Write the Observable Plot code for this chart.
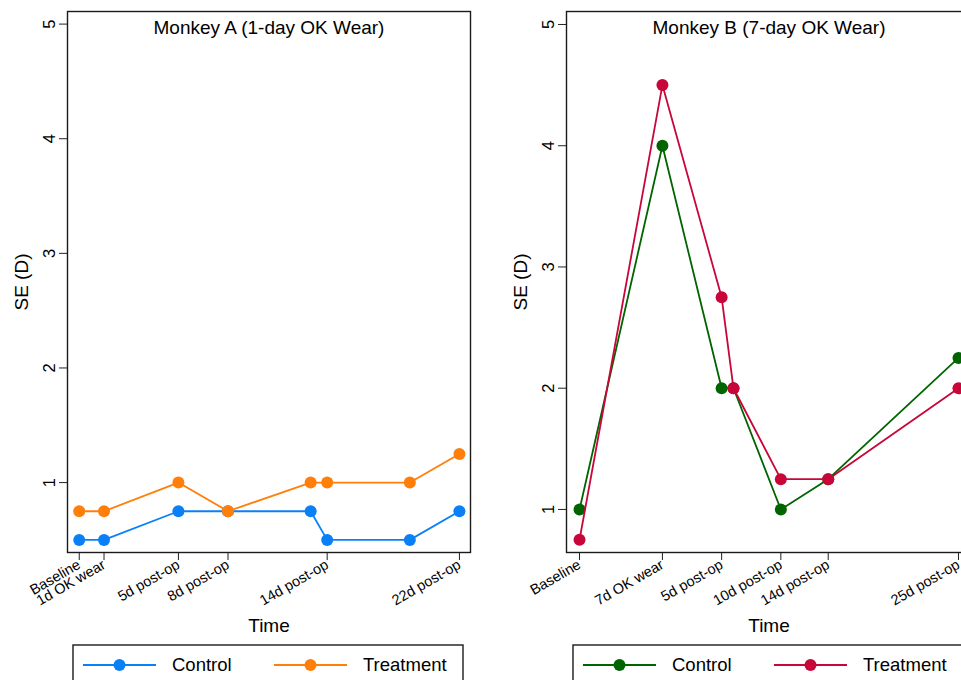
<!DOCTYPE html>
<html>
<head>
<meta charset="utf-8">
<script src="https://cdn.jsdelivr.net/npm/d3@7"></script>
<script src="https://cdn.jsdelivr.net/npm/@observablehq/plot@0.6"></script>
<style>
  html, body { margin: 0; padding: 0; background: #fff; overflow: hidden; width: 961px; height: 680px; }
  #wrap { position: relative; width: 961px; height: 680px; overflow: hidden; font-family: "Liberation Sans", Arial, Helvetica, sans-serif; }
  .panel { position: absolute; top: 0; }
  .panel svg { display: block; max-width: none !important; }
  #legend { position: absolute; left: 0; top: 0; }
</style>
</head>
<body>
<div id="wrap">
  <div class="panel" id="pa" style="left:0px; width:480px"></div>
  <div class="panel" id="pb" style="left:480px; width:500px"></div>
  <svg id="legend" width="961" height="680"></svg>
</div>
<script>
// ---- Data ----
const seriesNames = ["Control", "Treatment"];

// Monkey A (1-day OK wear)
const titleA = "Monkey A (1-day OK Wear)";
const tickPosA = [0, 1.5, 6, 9, 15, 23];
const tickLabelsA = ["Baseline", "1d OK wear", "5d post-op", "8d post-op", "14d post-op", "22d post-op"];
const timeA = [0, 1.5, 6, 9, 14, 15, 20, 23];
const controlA = [0.5, 0.5, 0.75, 0.75, 0.75, 0.5, 0.5, 0.75];
const treatmentA = [0.75, 0.75, 1.0, 0.75, 1.0, 1.0, 1.0, 1.25];
const colorsA = ["#0a80f7", "#ff7f0a"];

// Monkey B (7-day OK wear)
const titleB = "Monkey B (7-day OK Wear)";
const tickPosB = [0, 7, 12, 17, 21, 32];
const tickLabelsB = ["Baseline", "7d OK wear", "5d post-op", "10d post-op", "14d post-op", "25d post-op"];
const timeB = [0, 7, 12, 13, 17, 21, 32];
const controlB = [1.0, 4.0, 2.0, 2.0, 1.0, 1.25, 2.25];
const treatmentB = [0.75, 4.5, 2.75, 2.0, 1.25, 1.25, 2.0];
const colorsB = ["#006400", "#c8063a"];

const yTicks = [1, 2, 3, 4, 5];
const xTitle = "Time";
const yTitle = "SE (D)";

const FONT = "'Liberation Sans', Arial, Helvetica, sans-serif";

function panel(cfg) {
  const rows = (vals, s) => cfg.time.map((t, i) => ({ t, v: vals[i], s }));
  const ctrl = rows(cfg.control, seriesNames[0]);
  const trt = rows(cfg.treatment, seriesNames[1]);
  return Plot.plot({
    width: cfg.width,
    height: 640,
    marginTop: 11,
    marginBottom: 88,
    marginLeft: cfg.marginLeft,
    marginRight: cfg.marginRight,
    style: { fontFamily: FONT, fontSize: "14px", color: "#000", background: "transparent", maxWidth: "none" },
    x: { domain: cfg.xDomain },
    y: { domain: cfg.yDomain },
    color: { domain: seriesNames, range: cfg.colors },
    marks: [
      Plot.axisX({
        ticks: cfg.tickPos,
        tickFormat: (d) => cfg.tickLabels[cfg.tickPos.indexOf(d)],
        tickRotate: -30,
        tickSize: 8,
        tickPadding: 3,
        fontSize: 14.5,
        stroke: "#222",
        label: null
      }),
      Plot.axisY({
        ticks: yTicks,
        tickFormat: (d) => String(d),
        tickRotate: -90,
        tickSize: 8,
        tickPadding: 5,
        fontSize: 16.5,
        stroke: "#222",
        label: null
      }),
      Plot.line(ctrl, { x: "t", y: "v", stroke: "s", strokeWidth: 1.8 }),
      Plot.dot(ctrl, { x: "t", y: "v", fill: "s", r: 6 }),
      Plot.line(trt, { x: "t", y: "v", stroke: "s", strokeWidth: 1.8 }),
      Plot.dot(trt, { x: "t", y: "v", fill: "s", r: 6 }),
      Plot.frame({ stroke: "#1a1a1a", strokeWidth: 1.4 }),
      Plot.text([cfg.title], { frameAnchor: "top", dy: 16, fontSize: 19, fill: "#000", textAnchor: "middle", lineAnchor: "middle" }),
      Plot.text([xTitle], { frameAnchor: "bottom", dy: 73, fontSize: 19, fill: "#000", textAnchor: "middle", lineAnchor: "middle" }),
      Plot.text([yTitle], { frameAnchor: "left", dx: -46, rotate: -90, fontSize: 19, fill: "#000", textAnchor: "middle", lineAnchor: "middle" })
    ]
  });
}

document.getElementById("pa").appendChild(panel({
  title: titleA, time: timeA, control: controlA, treatment: treatmentA,
  tickPos: tickPosA, tickLabels: tickLabelsA, colors: colorsA,
  width: 480, marginLeft: 67, marginRight: 10,
  xDomain: [-0.71, 23.67], yDomain: [0.39, 5.11]
}));
document.getElementById("pb").appendChild(panel({
  title: titleB, time: timeB, control: controlB, treatment: treatmentB,
  tickPos: tickPosB, tickLabels: tickLabelsB, colors: colorsB,
  width: 500, marginLeft: 86, marginRight: 9,
  xDomain: [-1.1, 33.1], yDomain: [0.645, 5.107]
}));

// ---- Legends (below the plots) ----
const leg = d3.select("#legend");
function legend(x0, w, colors) {
  const g = leg.append("g").attr("font-family", FONT);
  g.append("rect").attr("x", x0).attr("y", 645).attr("width", w).attr("height", 60)
    .attr("fill", "#fff").attr("stroke", "#1a1a1a").attr("stroke-width", 1.4);
  const items = [
    { lx: x0 + 10, tx: x0 + 99 },
    { lx: x0 + 201, tx: x0 + 290 }
  ];
  items.forEach((it, i) => {
    g.append("line").attr("x1", it.lx).attr("x2", it.lx + 73).attr("y1", 665).attr("y2", 665)
      .attr("stroke", colors[i]).attr("stroke-width", 1.8);
    g.append("circle").attr("cx", it.lx + 36.5).attr("cy", 665).attr("r", 6).attr("fill", colors[i]);
    g.append("text").attr("x", it.tx).attr("y", 665).attr("dy", "0.35em")
      .attr("font-size", 18.5).attr("fill", "#000").text(seriesNames[i]);
  });
}
legend(73, 390, colorsA);
legend(573, 400, colorsB);
</script>
</body>
</html>
